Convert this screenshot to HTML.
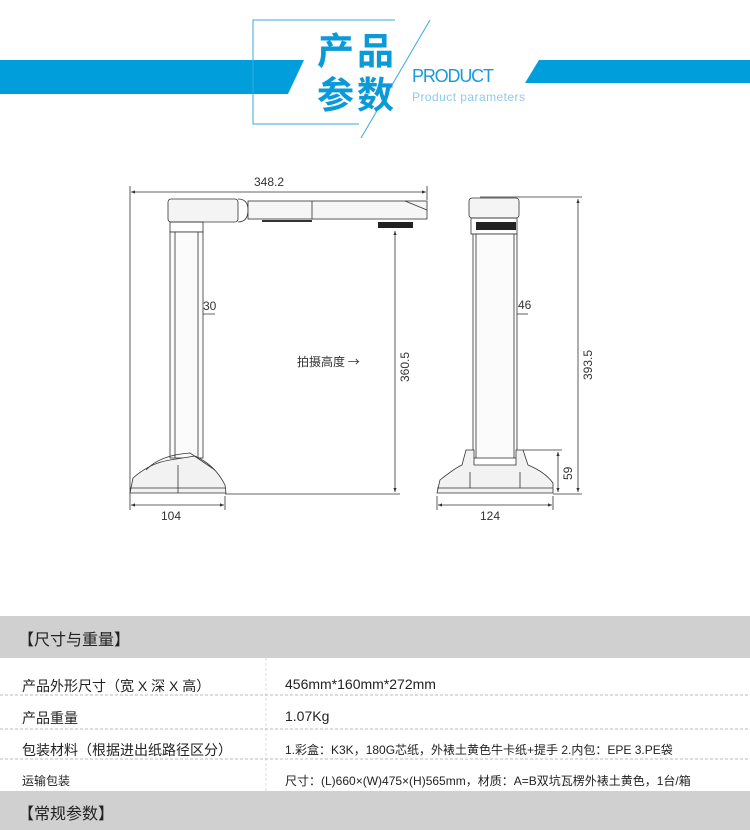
<!DOCTYPE html>
<html><head><meta charset="utf-8"><style>
body{margin:0;width:750px;height:830px;background:#fff;position:relative;overflow:hidden;font-family:"Liberation Sans","Noto Sans CJK SC",sans-serif}
.a{position:absolute}
</style></head><body>
<svg class="a" style="left:0;top:0" width="750" height="830" xmlns="http://www.w3.org/2000/svg">
<defs><marker id="m" viewBox="0 0 10 10" refX="10" refY="5" markerWidth="7" markerHeight="5" orient="auto-start-reverse"><path d="M0 1 L10 5 L0 9 Z" fill="#333"/></marker></defs>
<polygon points="0,60 304,60 288,94 0,94" fill="#009edb"/>
<polygon points="539,60 750,60 750,83 525,83" fill="#009edb"/>
<polyline points="395,20 253,20 253,124 359,124" fill="none" stroke="#3aa8e0" stroke-width="1"/>
<line x1="430" y1="20" x2="361" y2="138" stroke="#3aa8e0" stroke-width="1"/>
<text x="317" y="64" font-size="37" font-weight="bold" fill="#0a9ad8" font-family="Noto Sans CJK SC,sans-serif" letter-spacing="3">产品</text>
<text x="317" y="108" font-size="37" font-weight="bold" fill="#0a9ad8" font-family="Noto Sans CJK SC,sans-serif" letter-spacing="3">参数</text>
<text x="412" y="82" font-size="18" fill="#1a9ad8" font-family="Liberation Sans,sans-serif" textLength="82">PRODUCT</text>
<text x="412" y="101" font-size="12" fill="#8ccaee" font-family="Liberation Sans,sans-serif" textLength="113">Product parameters</text>

<g stroke="#333" fill="none" stroke-width="0.8">
<line x1="130" y1="186" x2="130" y2="510"/>
<line x1="427" y1="186" x2="427" y2="200"/>
<line x1="131" y1="192" x2="426" y2="192" marker-start="url(#m)" marker-end="url(#m)"/>
<line x1="225" y1="496" x2="225" y2="510"/>
<line x1="131" y1="505" x2="224" y2="505" marker-start="url(#m)" marker-end="url(#m)"/>
<line x1="225" y1="494" x2="400" y2="494"/>
<line x1="395" y1="231" x2="395" y2="492" marker-start="url(#m)" marker-end="url(#m)"/>
<line x1="175" y1="314" x2="198" y2="314" marker-start="url(#m)" marker-end="url(#m)"/>
<line x1="198" y1="314" x2="215" y2="314"/>
<rect x="168" y="199" width="70" height="23" rx="3" fill="#f4f4f4"/>
<path d="M238 199 q10 0 10 11 q0 12 -10 12"/>
<rect x="248" y="201" width="179" height="18" fill="#f6f6f6"/>
<line x1="312" y1="201" x2="312" y2="219"/>
<line x1="405" y1="201" x2="427" y2="210"/>
<line x1="262" y1="221" x2="312" y2="221" stroke-width="2"/>
<rect x="170" y="222" width="33" height="10"/>
<rect x="170" y="232" width="33" height="226" fill="#fbfbfb"/>
<line x1="175" y1="232" x2="175" y2="458"/>
<line x1="198" y1="232" x2="198" y2="458"/>
<path d="M130 493 L133 478 Q150 463 170 460 L195 456 Q215 465 225 485 L226 493 Z" fill="#f2f2f2"/>
<path d="M146 470 Q160 455 190 453 L215 470"/>
<line x1="130" y1="488" x2="226" y2="488"/>
<line x1="178" y1="465" x2="178" y2="493"/>
<line x1="480" y1="197" x2="582" y2="197"/>
<line x1="578" y1="199" x2="578" y2="492" marker-start="url(#m)" marker-end="url(#m)"/>
<line x1="553" y1="494" x2="582" y2="494"/>
<line x1="523" y1="450" x2="562" y2="450"/>
<line x1="558" y1="452" x2="558" y2="492" marker-start="url(#m)" marker-end="url(#m)"/>
<line x1="437" y1="496" x2="437" y2="510"/>
<line x1="553" y1="496" x2="553" y2="510"/>
<line x1="438" y1="505" x2="552" y2="505" marker-start="url(#m)" marker-end="url(#m)"/>
<line x1="476" y1="314" x2="514" y2="314" marker-start="url(#m)" marker-end="url(#m)"/>
<line x1="514" y1="314" x2="528" y2="314"/>
<rect x="469" y="198" width="50" height="20" rx="3" fill="#f4f4f4"/>
<rect x="471" y="218" width="46" height="16"/>
<rect x="473" y="234" width="44" height="224" fill="#fbfbfb"/>
<line x1="476" y1="234" x2="476" y2="458"/>
<line x1="514" y1="234" x2="514" y2="458"/>
<path d="M437 493 L440 480 Q455 468 462 465 L466 450 L474 450 L474 465 L516 465 L516 450 L523 450 L528 465 Q545 472 553 483 L553 493 Z" fill="#f2f2f2"/>
<line x1="437" y1="488" x2="553" y2="488"/>
<line x1="470" y1="472" x2="470" y2="488"/><line x1="520" y1="472" x2="520" y2="488"/>
</g>
<rect x="378" y="222" width="35" height="6" fill="#222"/>
<rect x="476" y="222" width="40" height="8" fill="#222"/>
<g font-family="Liberation Sans,sans-serif" font-size="12" fill="#333">
<text x="254" y="186">348.2</text>
<text x="161" y="520">104</text>
<text x="203" y="310">30</text>
<text x="518" y="309">46</text>
<text x="480" y="520">124</text>
<text transform="translate(409,382) rotate(-90)">360.5</text>
<text transform="translate(592,380) rotate(-90)">393.5</text>
<text transform="translate(572,480) rotate(-90)">59</text>
<text x="297" y="366" font-family="Noto Sans CJK SC,sans-serif" font-size="12">拍摄高度 →</text>
</g>

<rect x="0" y="616" width="750" height="42" fill="#d0d0d0"/>
<rect x="0" y="791" width="750" height="39" fill="#d0d0d0"/>
<line x1="266" y1="658" x2="266" y2="791" stroke="#ddd" stroke-dasharray="3,2"/>
<g stroke="#bbb" stroke-dasharray="3,2"><line x1="0" y1="695" x2="750" y2="695"/><line x1="0" y1="729" x2="750" y2="729"/><line x1="0" y1="759" x2="750" y2="759"/></g>
</svg>
<div class="a" style="left:18px;top:626px;font-size:16px;color:#222">【尺寸与重量】</div>
<div class="a" style="left:22px;top:676px;font-size:14px;color:#222">产品外形尺寸（宽 X 深 X 高）</div>
<div class="a" style="left:285px;top:676px;font-size:14px;color:#222">456mm*160mm*272mm</div>
<div class="a" style="left:22px;top:708px;font-size:14px;color:#222">产品重量</div>
<div class="a" style="left:285px;top:708px;font-size:14px;color:#222">1.07Kg</div>
<div class="a" style="left:22px;top:740px;font-size:14px;color:#222">包装材料（根据进出纸路径区分）</div>
<div class="a" style="left:285px;top:741px;font-size:12px;color:#222">1.彩盒：K3K，180G芯纸，外裱土黄色牛卡纸+提手 2.内包：EPE 3.PE袋</div>
<div class="a" style="left:22px;top:772px;font-size:12px;color:#222">运输包装</div>
<div class="a" style="left:285px;top:772px;font-size:12px;color:#222;white-space:nowrap">尺寸：(L)660×(W)475×(H)565mm，材质：A=B双坑瓦楞外裱土黄色，1台/箱</div>
<div class="a" style="left:18px;top:800px;font-size:16px;color:#222">【常规参数】</div>
</body></html>
